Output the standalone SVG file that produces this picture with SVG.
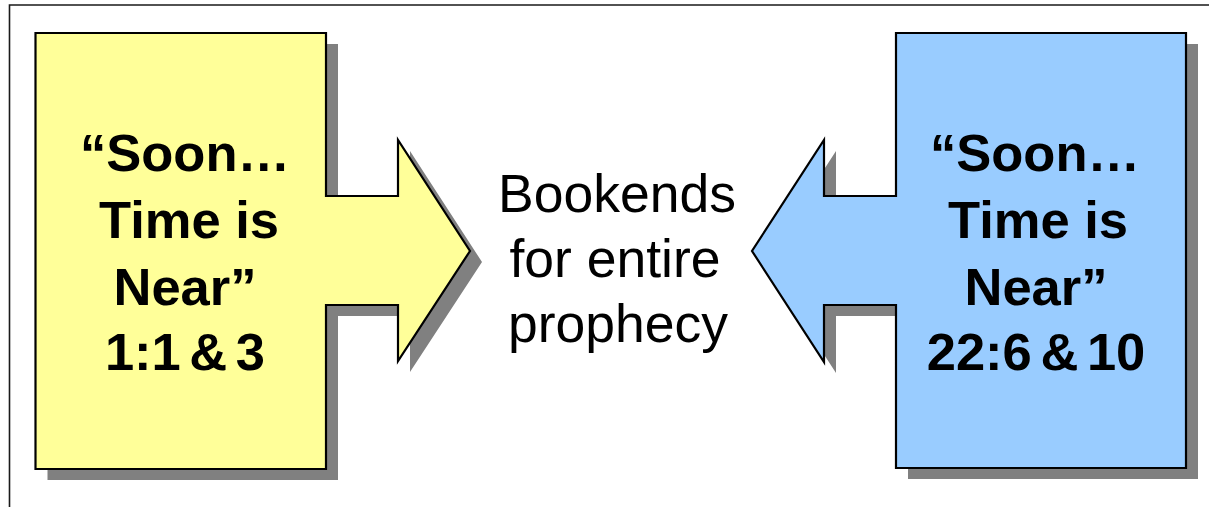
<svg xmlns="http://www.w3.org/2000/svg" width="1209" height="507" viewBox="0 0 1209 507">
<style>
.frame{fill:none;stroke:#1a1a1a;stroke-width:1.6}
.shadow{fill:#808080}
.box{stroke:#000;stroke-width:2.2;stroke-linejoin:miter}
.yellow{fill:#FFFF99}
.blue{fill:#99CCFF}
.bold{font-family:"Liberation Sans",Arial,sans-serif;font-weight:bold;font-size:52.5px;fill:#000;text-anchor:middle}
.plain{font-family:"Liberation Sans",Arial,sans-serif;font-size:53.5px;fill:#000;text-anchor:middle}
</style>
<rect width="1209" height="507" fill="#fff"/>
<path class="frame" d="M9.5,507 V5 H1209"/>
<g id="left-node">
  <polygon class="shadow" transform="translate(12,11)" points="35.5,33 326,33 326,196 398,196 398,140 470,251 398,361 398,305 326,305 326,469 35.5,469"/>
  <polygon class="box yellow" points="35.5,33 326,33 326,196 398,196 398,140 470,251 398,361 398,305 326,305 326,469 35.5,469"/>
  <text class="bold" x="185" y="171">“Soon…</text>
  <text class="bold" x="189" y="238">Time is</text>
  <text class="bold" x="185" y="305">Near”</text>
  <text class="bold" x="185" y="370" word-spacing="-6">1:1 &amp; 3</text>
</g>
<g id="center-label">
  <text class="plain" x="617" y="212">Bookends</text>
  <text class="plain" x="615" y="277">for entire</text>
  <text class="plain" x="618" y="342">prophecy</text>
</g>
<g id="right-node">
  <polygon class="shadow" transform="translate(12,11)" points="1186,33 896,33 896,196 824,196 824,140 752,251 824,362 824,305 896,305 896,468 1186,468"/>
  <polygon class="box blue" points="1186,33 896,33 896,196 824,196 824,140 752,251 824,362 824,305 896,305 896,468 1186,468"/>
  <text class="bold" x="1035" y="171">“Soon…</text>
  <text class="bold" x="1038" y="238">Time is</text>
  <text class="bold" x="1036" y="305">Near”</text>
  <text class="bold" x="1036" y="370" word-spacing="-6">22:6 &amp; 10</text>
</g>
</svg>
